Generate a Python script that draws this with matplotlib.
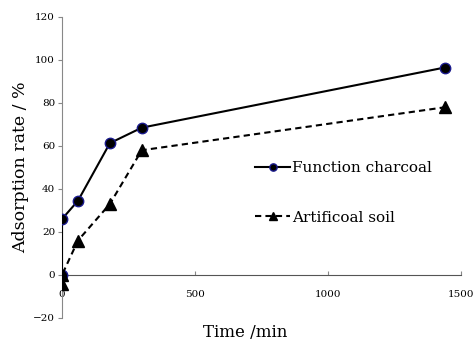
import matplotlib.pyplot as plt

time_charcoal = [0, 0, 60, 180, 300, 1440]
rate_charcoal = [0, 26, 34.5, 61.3, 68.5, 96.5]
time_soil = [0, 0, 60, 180, 300, 1440]
rate_soil = [-4, 0, 16, 33, 58, 78]

plt.rcParams['font.family'] = ['DejaVu Serif']

fig = plt.figure(figsize=(4.77, 3.4), dpi=100)
ax = fig.add_axes([0.130, 0.065, 0.836, 0.885])

ax.plot(time_charcoal, rate_charcoal, '-o', color='black', lw=1.5,
        markersize=7.5, markerfacecolor='black', markeredgecolor='#1a1a8c',
        markeredgewidth=1, label='Function charcoal', zorder=3)
ax.plot(time_soil, rate_soil, '--^', color='black', lw=1.5,
        dashes=(3, 2), markersize=9, markerfacecolor='black',
        markeredgecolor='black', label='Artificoal soil', zorder=4)

ax.set_xlim(0, 1500)
ax.set_ylim(-20, 120)
ax.set_xticks([0, 500, 1000, 1500])
ax.set_yticks(range(-20, 121, 20))

for s in ['top', 'right']:
    ax.spines[s].set_visible(False)
ax.spines['left'].set_color('#888888')
ax.spines['bottom'].set_color('#555555')
ax.spines['bottom'].set_position(('data', 0))

ax.tick_params(axis='y', direction='out', length=3, color='#888888',
               labelsize=7.5, pad=2)
ax.tick_params(axis='x', direction='in', length=3, color='#888888',
               labelsize=7.5, pad=11)

ax.set_xlabel('Time /min', fontsize=12)
ax.xaxis.set_label_coords(0.46, -0.02)
ax.set_ylabel('Adsorption rate / %', fontsize=12.5, labelpad=3)

ax.legend(loc='upper left', bbox_to_anchor=(0.484, 0.52), frameon=False,
          fontsize=11, handlelength=2.3, handletextpad=0.15,
          labelspacing=2.3, borderpad=0, borderaxespad=0, markerscale=0.7)

fig.savefig('out.png', dpi=100)
